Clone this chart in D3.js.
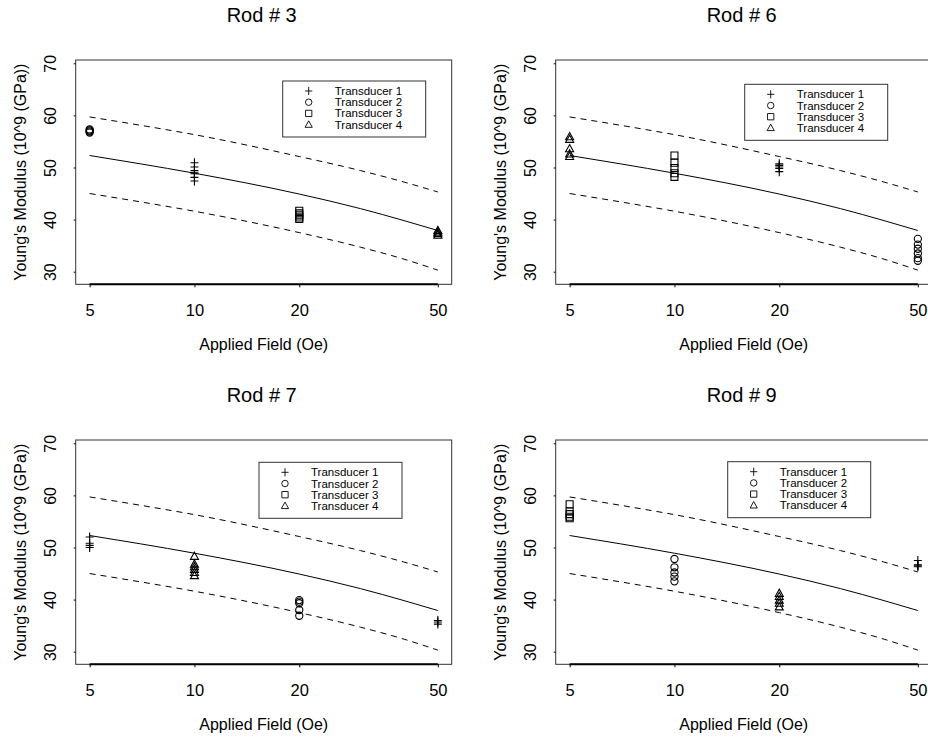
<!DOCTYPE html>
<html>
<head>
<meta charset="utf-8">
<script src="https://cdn.jsdelivr.net/npm/d3@7"></script>
<style>
  body { margin: 0; background: #fff; }
  svg { display: block; }
  text { font-family: "Liberation Sans", Arial, sans-serif; fill: #000; }
</style>
</head>
<body>
<svg id="chart" width="928" height="738"></svg>
<script>
// tick values
var fieldTicks = [5, 10, 20, 50];
var modulusTicks = [30, 40, 50, 60, 70];

// fitted curve with its band
var curveField = [5, 7, 10, 20, 30, 40, 50];
var curveFit = [52.3, 50.7, 48.9, 44.9, 42.1, 39.8, 37.9];
var curveUpper = [59.7, 58.1, 56.3, 52.1, 49.4, 47.2, 45.3];
var curveLower = [45.0, 43.4, 41.6, 37.5, 34.7, 32.4, 30.3];

var transducers = ["Transducer 1", "Transducer 2", "Transducer 3", "Transducer 4"];
var rodTitles = ["Rod # 3", "Rod # 6", "Rod # 7", "Rod # 9"];

// [transducer index, field, values]
var rod3Points = [
  [1, 5, [57.3, 57.1, 56.9, 56.7]],
  [0, 10, [50.9, 50.1, 49.4, 49.0, 48.8, 48.1, 47.4]],
  [2, 20, [41.7, 41.2, 40.8, 40.4, 40.1]],
  [3, 50, [37.9, 37.6, 37.3, 37.0]]
];
var rod6Points = [
  [3, 5, [55.9, 55.4, 53.6, 52.6, 52.1]],
  [2, 10, [52.3, 50.9, 49.9, 48.9, 48.2]],
  [0, 20, [50.7, 50.4, 50.1, 49.8, 49.2]],
  [1, 50, [36.3, 35.2, 34.4, 33.5, 32.6, 32.1]]
];
var rod7Points = [
  [0, 5, [52.0, 50.8, 50.4, 50.0]],
  [3, 10, [48.3, 46.8, 46.3, 45.8, 45.2, 44.6]],
  [1, 20, [39.9, 39.6, 39.3, 38.0, 36.9]],
  [0, 50, [36.0, 35.7, 35.3]]
];
var rod9Points = [
  [2, 5, [58.3, 56.9, 56.4, 55.9, 55.6]],
  [1, 10, [47.8, 46.2, 45.2, 44.4, 43.5]],
  [3, 20, [41.2, 40.6, 39.9, 39.3, 38.6]],
  [0, 50, [47.5, 46.7, 46.5, 46.3]]
];

var allPoints = [rod3Points, rod6Points, rod7Points, rod9Points];

// panel layout
var boxW = 376, boxH = 224.3;
var panelX = [75.7, 555.7, 75.7, 555.7];
var panelY = [60, 60, 440, 440];
var legendOffset = [[207, 21], [189, 24.3], [183.3, 22.3], [172, 21.7]];

var svg = d3.select("#chart");

function symbolPath(k) {
  if (k == 0) return "M-4,0H4M0,-4.5V4.5";
  if (k == 1) return "M3.6,0A3.6,3.6 0 1,1 -3.6,0A3.6,3.6 0 1,1 3.6,0Z";
  if (k == 2) return "M-3.5,-3.5H3.5V3.5H-3.5Z";
  return "M0,-4.2L4,3L-4,3Z";
}

for (var p = 0; p < 4; p++) {
  var g = svg.append("g").attr("transform", "translate(" + panelX[p] + "," + panelY[p] + ")");

  var x = d3.scaleLog().domain([4.56, 54.8]).range([0, boxW]);
  var y = d3.scaleLinear().domain([27.58, 70.63]).range([boxH, 0]);

  // box
  g.append("rect")
    .attr("width", boxW).attr("height", boxH)
    .attr("fill", "none").attr("stroke", "#333").attr("stroke-width", 1);

  // x axis
  var xAxis = d3.axisBottom(x).tickValues(fieldTicks).tickSize(3).tickPadding(19)
    .tickFormat(d3.format("d"));
  var xg = g.append("g").attr("transform", "translate(0," + boxH + ")").call(xAxis);
  xg.select(".domain").remove();
  xg.append("line")
    .attr("x1", x(5)).attr("x2", x(50))
    .attr("stroke", "#000").attr("stroke-width", 2);
  xg.selectAll("text").attr("font-size", 16.5).attr("font-family", "Liberation Sans, Arial, sans-serif")
    .attr("fill", "#000").attr("dy", "0.6em");

  // y axis
  var yAxis = d3.axisLeft(y).tickValues(modulusTicks).tickSize(2).tickPadding(4);
  var yg = g.append("g").call(yAxis);
  yg.select(".domain").remove();
  yg.selectAll("text")
    .attr("font-size", 16).attr("font-family", "Liberation Sans, Arial, sans-serif").attr("fill", "#000")
    .attr("text-anchor", "middle").attr("dy", null).attr("x", null)
    .attr("transform", "translate(-20,0) rotate(-90)");

  // fitted curves
  var line = function (vals) {
    return d3.line()
      .x(function (d) { return x(d); })
      .y(function (d, i) { return y(vals[i]); })
      .curve(d3.curveMonotoneX)(curveField);
  };
  g.append("path").attr("d", line(curveFit)).attr("fill", "none").attr("stroke", "#000").attr("stroke-width", 1);
  g.append("path").attr("d", line(curveUpper)).attr("fill", "none").attr("stroke", "#000")
    .attr("stroke-width", 1).attr("stroke-dasharray", "6,5");
  g.append("path").attr("d", line(curveLower)).attr("fill", "none").attr("stroke", "#000")
    .attr("stroke-width", 1).attr("stroke-dasharray", "6,5");

  // points
  allPoints[p].forEach(function (c) {
    g.selectAll(null).data(c[2]).enter()
      .append("path")
      .attr("d", symbolPath(c[0]))
      .attr("transform", function (d) { return "translate(" + x(c[1]) + "," + y(d) + ")"; })
      .attr("fill", "none").attr("stroke", "#000").attr("stroke-width", 1.1);
  });

  // legend
  var lg = g.append("g").attr("transform", "translate(" + legendOffset[p][0] + "," + legendOffset[p][1] + ")");
  lg.append("rect").attr("width", 143).attr("height", 56)
    .attr("fill", "#fff").attr("stroke", "#333").attr("stroke-width", 1);
  var rows = lg.selectAll(".row").data(transducers).enter().append("g")
    .attr("transform", function (d, i) { return "translate(0," + (10 + i * 11.2) + ")"; });
  rows.append("path").attr("d", function (d, i) { return symbolPath(i); })
    .attr("transform", "translate(26,0) scale(0.9)")
    .attr("fill", "none").attr("stroke", "#000").attr("stroke-width", 1);
  rows.append("text").attr("x", 52).attr("dy", "0.35em").attr("font-size", 11.5)
    .text(function (d) { return d; });

  // titles
  g.append("text").attr("x", boxW / 2 - 2).attr("y", -38)
    .attr("text-anchor", "middle").attr("font-size", 20).text(rodTitles[p]);
  g.append("text").attr("x", boxW / 2).attr("y", boxH + 66)
    .attr("text-anchor", "middle").attr("font-size", 16).text("Applied Field (Oe)");
  g.append("text")
    .attr("transform", "translate(-50," + (boxH / 2) + ") rotate(-90)")
    .attr("text-anchor", "middle").attr("font-size", 16).text("Young's Modulus (10^9 (GPa))");
}
</script>
</body>
</html>
